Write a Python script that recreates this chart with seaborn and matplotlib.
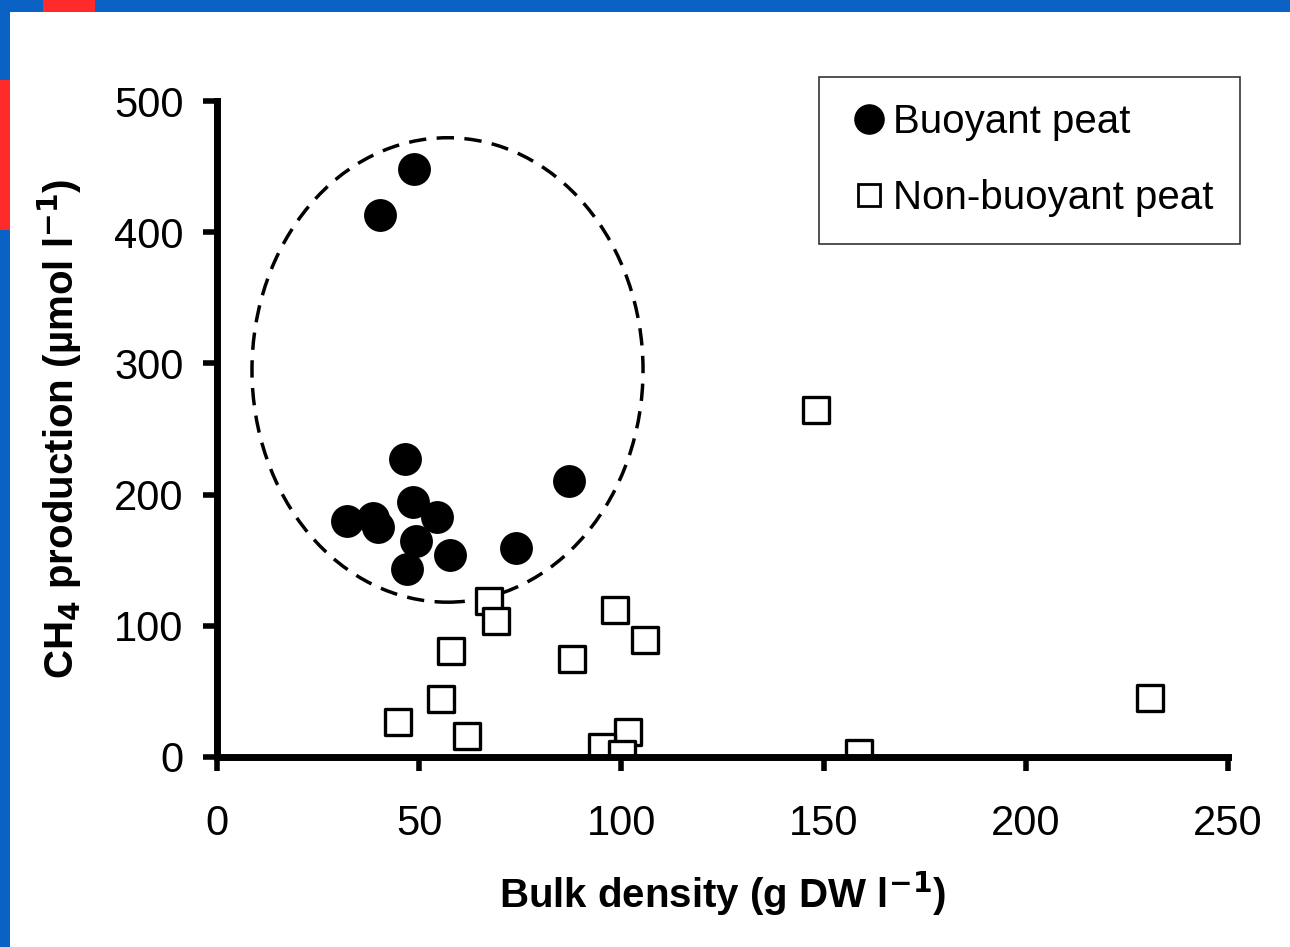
import pandas as pd
import matplotlib.pyplot as plt
import seaborn as sns
from matplotlib.patches import Ellipse, Rectangle
from matplotlib.lines import Line2D

# Buoyant peat (filled circles)
buoyant_x = [48.7, 40.3, 46.5, 87.0, 32.1, 38.5, 39.8, 48.5, 54.4, 49.2, 57.6, 47.0, 73.9]
buoyant_y = [448, 413, 227, 210, 180, 182, 175, 194, 183, 165, 154, 143, 159]

# Non-buoyant peat (open squares)
nonbuoy_x = [148.1, 67.3, 69.0, 98.4, 105.8, 57.9, 87.8, 55.4, 44.8, 61.8, 101.6, 95.2, 100.1, 158.8, 230.7]
nonbuoy_y = [264.5, 119, 104, 112, 89, 81, 75, 44, 27, 16, 19, 8, 2, 3, 45]

x_ticks = [0, 50, 100, 150, 200, 250]
y_ticks = [0, 100, 200, 300, 400, 500]

df_b = pd.DataFrame({"density": buoyant_x, "ch4": buoyant_y})
df_n = pd.DataFrame({"density": nonbuoy_x, "ch4": nonbuoy_y})

sns.set_style("white")
plt.rcParams["font.family"] = ["Liberation Sans", "DejaVu Sans"]
plt.rcParams["text.color"] = "black"
plt.rcParams["axes.labelcolor"] = "black"

fig = plt.figure(figsize=(12.9, 9.47), dpi=100)
fig.patch.set_facecolor("#0a62c4")
# white slide area with blue frame on top/left
fig.patches.append(Rectangle((10 / 1290, 0), 1, 1 - 12 / 947, transform=fig.transFigure,
                             facecolor="white", edgecolor="none", zorder=-5))
fig.patches.append(Rectangle((43 / 1290, 1 - 12 / 947), 52 / 1290, 12 / 947, transform=fig.transFigure,
                             facecolor="#ff2a2a", edgecolor="none", zorder=-5))
fig.patches.append(Rectangle((0, 1 - 230 / 947), 10 / 1290, 150 / 947, transform=fig.transFigure,
                             facecolor="#ff2a2a", edgecolor="none", zorder=-5))

ax = fig.add_axes([217 / 1290, 1 - 757 / 947, (1228 - 217) / 1290, (757 - 101) / 947])
ax.set_facecolor("none")

sns.scatterplot(data=df_b, x="density", y="ch4", ax=ax, marker="o", s=560,
                color="black", edgecolor="black", linewidth=0, zorder=3)
sns.scatterplot(data=df_n, x="density", y="ch4", ax=ax, marker="s", s=330,
                facecolor="white", edgecolor="black", linewidth=2.4, zorder=4)

# dashed ellipse round the buoyant group
ell = Ellipse((57, 295), 96.7, 354, fill=False, linestyle=(0, (5, 3)), linewidth=2.5,
              edgecolor="black", zorder=2)
ax.add_patch(ell)

ax.set_xlim(0, 250)
ax.set_ylim(0, 500)
ax.set_xticks(x_ticks)
ax.set_yticks(y_ticks)
ax.tick_params(axis="both", bottom=True, left=True, labelsize=30, width=4, length=10,
               direction="out", color="black", labelcolor="black")
ax.tick_params(axis="x", pad=24)
ax.tick_params(axis="y", pad=14)
for side in ["top", "right"]:
    ax.spines[side].set_visible(False)
for side in ["left", "bottom"]:
    ax.spines[side].set_linewidth(5)
    ax.spines[side].set_color("black")
ax.spines["bottom"].set_zorder(5)

ax.set_xlabel("Bulk density (g DW l$^{\\mathbf{-1}}$)", fontsize=29, fontweight="bold", labelpad=18)
ax.set_ylabel("CH$_\\mathbf{4}$ production (µmol l$^{\\mathbf{-1}}$)", fontsize=29, fontweight="bold", labelpad=22)

handles = [
    Line2D([], [], marker="o", linestyle="none", color="black", markersize=21, label="Buoyant peat"),
    Line2D([], [], marker="s", linestyle="none", markerfacecolor="white", markeredgecolor="black",
           markeredgewidth=2, markersize=16, label="Non-buoyant peat"),
]
leg = ax.legend(handles=handles, loc="upper right", bbox_to_anchor=(1240 / 1290, 1 - 77 / 947),
                bbox_transform=fig.transFigure, fontsize=29, frameon=True, fancybox=False,
                handletextpad=0.0, handlelength=1.2, borderpad=0.65, labelspacing=0.95,
                borderaxespad=0)
leg.get_frame().set_edgecolor("black")
leg.get_frame().set_linewidth(1.2)

plt.savefig("out.png", dpi=100, facecolor=fig.get_facecolor())
